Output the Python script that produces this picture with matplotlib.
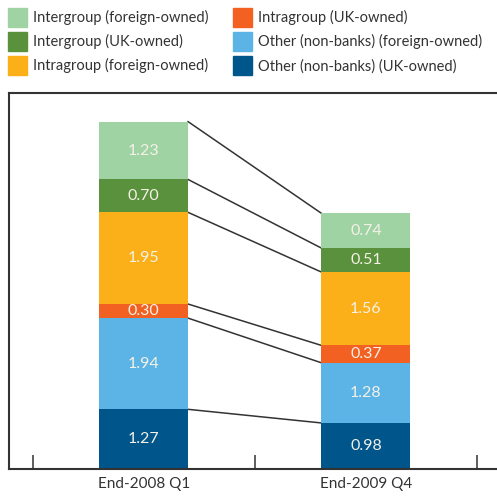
import matplotlib
matplotlib.use("Agg")
import matplotlib.pyplot as plt
import matplotlib.patches as pat

plt.rcParams['font.family'] = ['Lato', 'DejaVu Sans']

# data
periods = ["End-2008 Q1", "End-2009 Q4"]
# stacked from the bottom up
series = [
    "Other (non-banks) (UK-owned)",
    "Other (non-banks) (foreign-owned)",
    "Intragroup (UK-owned)",
    "Intragroup (foreign-owned)",
    "Intergroup (UK-owned)",
    "Intergroup (foreign-owned)",
]
other_uk = [1.27, 0.98]
other_foreign = [1.94, 1.28]
intra_uk = [0.30, 0.37]
intra_foreign = [1.95, 1.56]
inter_uk = [0.70, 0.51]
inter_foreign = [1.23, 0.74]
values = [other_uk, other_foreign, intra_uk, intra_foreign, inter_uk, inter_foreign]
colors = ["#00558B", "#5CB4E6", "#F26122", "#FBB01A", "#5A913D", "#9FD3A3"]

width = 0.40
fs = 10.5
txt_col = "#F4F1E6"
line_col = "#333333"

fig = plt.figure(figsize=(4.97, 4.96), dpi=100)
ax = fig.add_axes([0.0181, 0.0544, 1.04, 0.7581])

x = list(range(len(periods)))
bottom = [0.0, 0.0]
tops = []
for name, vals, c in zip(series, values, colors):
    ax.bar(x, vals, width, bottom=bottom, color=c, zorder=2)
    for xi, v, bt in zip(x, vals, bottom):
        ax.text(xi, bt + v / 2, "{:.2f}".format(v), ha='center', va='center',
                color=txt_col, fontsize=11.5, zorder=3)
    bottom = [bt + v for bt, v in zip(bottom, vals)]
    tops.append(list(bottom))

# connecting lines between segment tops
for t in tops:
    ax.plot([x[0] + width / 2, x[1] - width / 2], [t[0], t[1]],
            color=line_col, lw=1.1, zorder=1)

ax.set_xlim(-0.606, 1.72)
ax.set_ylim(0, 8)
ax.set_yticks([])
ax.set_xticks([-0.5, 0.5, 1.5])
ax.set_xticklabels([])
ax.tick_params(axis='x', which='major', direction='in', length=10, width=1.1, color=line_col)
ax.set_xticks(x, minor=True)
ax.set_xticklabels(periods, minor=True)
ax.tick_params(axis='x', which='minor', length=0, pad=6, labelsize=11, labelcolor="#333333")
ax.spines['right'].set_visible(False)
for s in ['left', 'top', 'bottom']:
    ax.spines[s].set_color(line_col)
    ax.spines[s].set_linewidth(1.5)

order = [
    "Intergroup (foreign-owned)",
    "Intergroup (UK-owned)",
    "Intragroup (foreign-owned)",
    "Intragroup (UK-owned)",
    "Other (non-banks) (foreign-owned)",
    "Other (non-banks) (UK-owned)",
]
leg_h = [pat.Patch(color=colors[series.index(n)]) for n in order]
fig.legend(leg_h, order, loc='upper left', bbox_to_anchor=(8 / 497, 1 - 8 / 496), ncol=2,
           frameon=False, fontsize=fs, handlelength=1.305, handleheight=1.63,
           handletextpad=0.41, columnspacing=1.7, labelspacing=0.34,
           borderaxespad=0, borderpad=0, labelcolor="#333333")

fig.savefig("out.png", dpi=100)
